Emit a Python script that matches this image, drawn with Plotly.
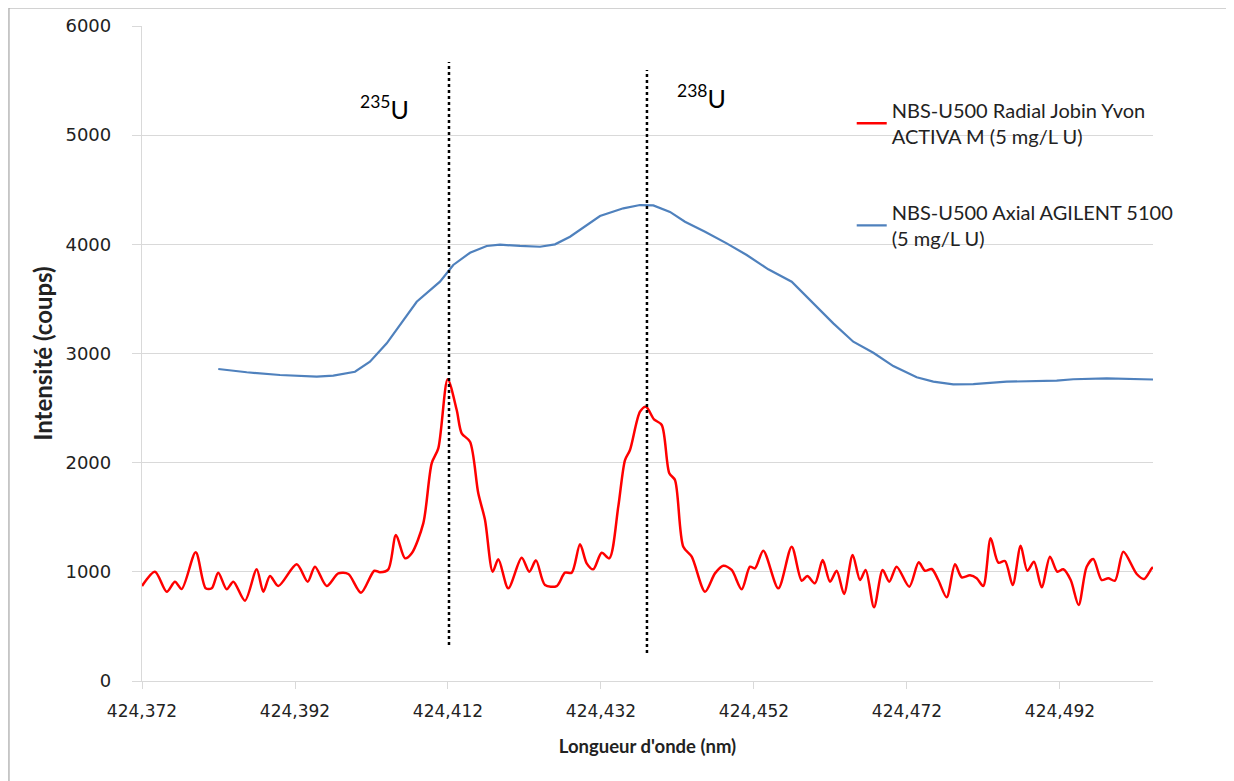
import plotly.graph_objects as go

# ---------------- data ----------------
radial_wavelength = [
    424.37200, 424.37370, 424.37523, 424.37631, 424.37719, 424.37902, 424.38033, 424.38111,
    424.38197, 424.38307, 424.38394, 424.38546, 424.38699, 424.38786, 424.38873, 424.38982,
    424.39222, 424.39366, 424.39461, 424.39614, 424.39766, 424.39897, 424.40063, 424.40237,
    424.40311, 424.40420, 424.40520, 424.40638, 424.40726, 424.40877, 424.40987, 424.41073,
    424.41196, 424.41314, 424.41379, 424.41488, 424.41596, 424.41684, 424.41784, 424.41858,
    424.41988, 424.42163, 424.42263, 424.42350, 424.42468, 424.42621, 424.42729, 424.42817,
    424.42926, 424.43013, 424.43099, 424.43209, 424.43309, 424.43426, 424.43514, 424.43579,
    424.43710, 424.43788, 424.43893, 424.43994, 424.44093, 424.44167, 424.44276, 424.44386,
    424.44560, 424.44690, 424.44799, 424.44908, 424.45039, 424.45148, 424.45213, 424.45322,
    424.45518, 424.45693, 424.45824, 424.45897, 424.45997, 424.46098, 424.46194, 424.46281,
    424.46377, 424.46490, 424.46586, 424.46660, 424.46769, 424.46882, 424.46969, 424.47065,
    424.47230, 424.47353, 424.47435, 424.47523, 424.47609, 424.47719, 424.47828, 424.47915,
    424.48024, 424.48111, 424.48197, 424.48294, 424.48394, 424.48481, 424.48582, 424.48686,
    424.48773, 424.48860, 424.48961, 424.49069, 424.49165, 424.49243, 424.49340, 424.49444,
    424.49549, 424.49635, 424.49745, 424.49831, 424.49919, 424.50028, 424.50203, 424.50298,
    424.50399, 424.50416,
]
radial_intensity = [
    870, 1001, 818, 910, 843, 1179, 849, 849,
    992, 840, 910, 736, 1023, 818, 962, 870,
    1069, 910, 1047, 870, 986, 980, 809, 1010,
    996, 1023, 1337, 1124, 1170, 1444, 1994, 2131,
    2764, 2482, 2269, 2192, 1719, 1475, 1001, 1115,
    849, 1129, 1001, 1105, 879, 870, 992, 992,
    1252, 1078, 1023, 1175, 1124, 1597, 2024, 2116,
    2467, 2513, 2397, 2345, 1903, 1841, 1230, 1139,
    818, 986, 1056, 1017, 840, 1047, 1032, 1194,
    849, 1230, 919, 962, 895, 1108, 910, 1010,
    797, 1154, 925, 1017, 675, 1017, 910, 1047,
    864, 1087, 1010, 1026, 925, 767, 1069, 950,
    968, 941, 870, 1307, 1084, 1099, 879, 1239,
    1010, 1093, 858, 1139, 1001, 1023, 925, 696,
    1047, 1117, 925, 941, 919, 1184, 980, 934,
    1032, 1040,
]

axial_wavelength = [
    424.38197, 424.38569, 424.39004, 424.39484, 424.39701, 424.39984, 424.40180, 424.40399,
    424.40791, 424.41095, 424.41269, 424.41488, 424.41706, 424.41880, 424.42141, 424.42403,
    424.42599, 424.42795, 424.43187, 424.43492, 424.43710, 424.43884, 424.44102, 424.44298,
    424.44560, 424.44843, 424.45105, 424.45387, 424.45693, 424.45975, 424.46237, 424.46498,
    424.46760, 424.47021, 424.47327, 424.47544, 424.47805, 424.48067, 424.48503, 424.49157,
    424.49374, 424.49811, 424.50399, 424.50416,
]
axial_intensity = [
    2858, 2828, 2803, 2788, 2797, 2833, 2925, 3093,
    3474, 3658, 3811, 3923, 3985, 3997, 3985, 3978,
    4000, 4070, 4259, 4330, 4360, 4357, 4297, 4207,
    4116, 4009, 3902, 3771, 3658, 3460, 3276, 3108,
    3007, 2885, 2782, 2742, 2718, 2720, 2742, 2751,
    2764, 2773, 2764, 2762,
]

isotope_labels = ["<sup>235</sup>U", "<sup>238</sup>U"]
isotope_wavelength = [424.41213, 424.43801]
isotope_line_top = [5670, 5597]
isotope_line_bottom = [330, 256]
isotope_label_x = [424.40376, 424.44520]
isotope_label_y = [5249, 5350]

x_tickvals = [424.372, 424.392, 424.412, 424.432, 424.452, 424.472, 424.492]
x_ticktext = ["424,372", "424,392", "424,412", "424,432", "424,452", "424,472", "424,492"]
y_tickvals = [0, 1000, 2000, 3000, 4000, 5000, 6000]

series_names = [
    "NBS-U500 Radial Jobin Yvon<br>ACTIVA M (5 mg/L U)",
    "NBS-U500 Axial AGILENT 5100<br>(5 mg/L U)",
]

# ---------------- figure ----------------
fig = go.Figure()

fig.add_trace(go.Scatter(
    x=radial_wavelength, y=radial_intensity, mode="lines",
    name=series_names[0], legendgroup="a",
    line=dict(color="#FF0000", width=2.5, shape="spline", smoothing=0.8),
))
fig.add_trace(go.Scatter(
    x=axial_wavelength, y=axial_intensity, mode="lines",
    name=series_names[1], legendgroup="b",
    line=dict(color="#4F81BD", width=2.2),
))

for wl, top, bot in zip(isotope_wavelength, isotope_line_top, isotope_line_bottom):
    fig.add_trace(go.Scatter(
        x=[wl, wl], y=[bot, top], mode="lines", showlegend=False,
        line=dict(color="black", width=2.5, dash="dot"), hoverinfo="skip",
    ))

for lbl, lx, ly in zip(isotope_labels, isotope_label_x, isotope_label_y):
    fig.add_annotation(x=lx, y=ly, text=lbl, showarrow=False,
                       font=dict(family="Lato", size=25, color="black"),
                       xanchor="center", yanchor="middle")

grid = "#D9D9D9"
fig.update_xaxes(
    range=[424.372, 424.50416], tickvals=x_tickvals, ticktext=x_ticktext,
    showgrid=False, showline=True, linecolor=grid, linewidth=1.3,
    ticks="outside", ticklen=7, tickcolor=grid, ticklabelstandoff=7,
    tickfont=dict(family="DejaVu Sans", size=17, color="#222222"),
    title=dict(text="<b>Longueur d'onde (nm)</b>", standoff=20,
               font=dict(family="Lato", size=18.5, color="#222222")),
    zeroline=False, automargin=False,
)
fig.update_yaxes(
    range=[0, 6000], tickvals=y_tickvals, tickformat="d",
    showgrid=True, gridcolor=grid, gridwidth=1.3,
    showline=True, linecolor=grid, linewidth=1.3,
    ticks="outside", ticklen=9, tickcolor=grid, ticklabelstandoff=17,
    tickfont=dict(family="DejaVu Sans", size=18, color="#222222"),
    title=dict(text="<b>Intensité (coups)</b>", standoff=6,
               font=dict(family="Lato", size=24, color="#222222")),
    zeroline=False, automargin=False,
)

fig.update_layout(
    width=1226, height=773,
    margin=dict(l=134, r=81, t=18, b=100),
    paper_bgcolor="white", plot_bgcolor="white",
    showlegend=True,
    legend=dict(
        x=0.702, y=0.901, xanchor="left", yanchor="top",
        bgcolor="rgba(0,0,0,0)", tracegroupgap=47,
        font=dict(family="Lato", size=20, color="#222222"),
        itemwidth=30,
    ),
    shapes=[dict(type="rect", xref="paper", yref="paper",
                 x0=-0.1316, x1=1.2, y0=-0.3, y1=1.0275,
                 line=dict(color="#A6A6A6", width=1.2), layer="below")],
)

fig.write_html("out.html")
